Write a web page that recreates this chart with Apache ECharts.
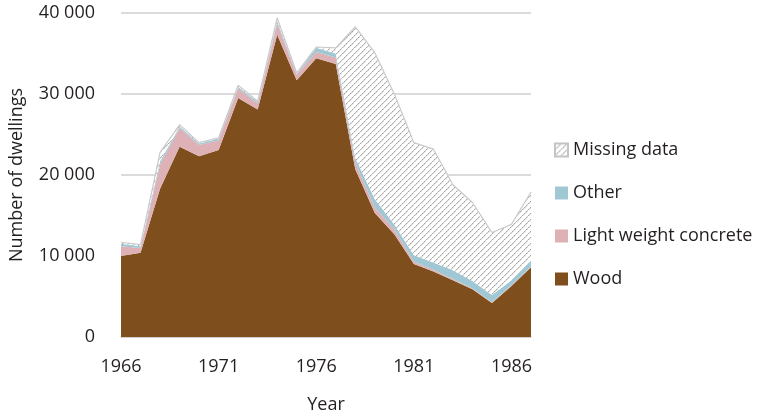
<!DOCTYPE html>
<html>
<head>
<meta charset="utf-8">
<script src="https://cdn.jsdelivr.net/npm/echarts@6/dist/echarts.min.js"></script>
<style>
  html, body { margin: 0; padding: 0; background: #fff; }
  #chart { width: 770px; height: 419px; }
</style>
</head>
<body>
<div id="chart"></div>
<script>
// 数据
const years = ['1966','1967','1968','1969','1970','1971','1972','1973','1974','1975','1976',
  '1977','1978','1979','1980','1981','1982','1983','1984','1985','1986','1987'];
const wood =     [10000,10400,18300,23500,22300,23100,29500,28100,37300,31700,34400,
  33700,20700,15300,12700,9000,8100,7000,5900,4200,6300,8600];
const concrete = [1200,600,3000,2300,1400,1200,1200,700,1400,700,800,
  800,800,700,600,300,200,150,100,100,100,100];
const other =    [300,200,400,200,200,200,200,200,300,100,500,
  500,600,1000,600,800,900,1100,900,900,600,700];
const missing =  [200,200,1100,200,100,100,200,100,400,100,100,
  700,16200,18100,16100,13900,14000,10550,9700,7700,6900,8500];
const legendNames = ['Missing data','Other','Light weight concrete','Wood'];

// 斜线填充
function hatchPattern() {
  let c = document.createElement('canvas');
  c.width = 6; c.height = 6;
  let ctx = c.getContext('2d');
  ctx.fillStyle = '#fff';
  ctx.fillRect(0, 0, 6, 6);
  for (let i = 0; i < 6; i++) {
    ctx.fillStyle = (i % 2) ? '#c4c4c4' : '#a6a6a6';
    ctx.fillRect(i, 5 - i, 1.2, 1.2);
  }
  return c;
}

const font = 'Open Sans';
const textColor = '#231f20';

let chart = echarts.init(document.getElementById('chart'));
chart.setOption({
  animation: false,
  grid: { left: 120, right: 239, top: 13, bottom: 81 },
  legend: {
    data: legendNames,
    orient: 'vertical',
    left: 549,
    top: 136,
    itemWidth: 13,
    itemHeight: 13,
    itemGap: 25,
    icon: 'rect',
    textStyle: { fontFamily: font, fontSize: 18, color: textColor, lineHeight: 18 }
  },
  xAxis: {
    type: 'category',
    data: years,
    boundaryGap: false,
    name: 'Year',
    nameLocation: 'middle',
    nameGap: 59,
    nameTextStyle: { fontFamily: font, fontSize: 18, color: textColor },
    axisLine: { lineStyle: { color: '#cfcfcf', width: 1.5 } },
    axisTick: { show: false },
    axisLabel: {
      interval: 4,
      margin: 21,
      fontFamily: font, fontSize: 18, color: textColor
    }
  },
  yAxis: {
    type: 'value',
    min: 0, max: 40000, interval: 10000,
    name: 'Number of dwellings',
    nameLocation: 'middle',
    nameGap: 95,
    nameTextStyle: { fontFamily: font, fontSize: 18, color: textColor },
    axisLine: { show: false },
    axisTick: { show: false },
    axisLabel: {
      margin: 26,
      fontFamily: font, fontSize: 18, color: textColor,
      formatter: (v) => v === 0 ? '0' : (v / 1000) + ' 000'
    },
    splitLine: { lineStyle: { color: '#cfcfcf', width: 1.5 } }
  },
  series: [
    {
      name: 'Wood', type: 'line', stack: 'all', data: wood,
      showSymbol: false, symbol: 'none',
      lineStyle: { width: 0 },
      itemStyle: { color: '#7e4e1c' },
      areaStyle: { color: '#7e4e1c', opacity: 1 }
    },
    {
      name: 'Light weight concrete', type: 'line', stack: 'all', data: concrete,
      showSymbol: false, symbol: 'none',
      lineStyle: { width: 0 },
      itemStyle: { color: '#ddb1b6' },
      areaStyle: { color: '#ddb1b6', opacity: 1 }
    },
    {
      name: 'Other', type: 'line', stack: 'all', data: other,
      showSymbol: false, symbol: 'none',
      lineStyle: { width: 0 },
      itemStyle: { color: '#a0c8d4' },
      areaStyle: { color: '#a0c8d4', opacity: 1 }
    },
    {
      name: 'Missing data', type: 'line', stack: 'all', data: missing,
      showSymbol: false, symbol: 'none',
      lineStyle: { width: 1.2, color: '#cacaca' },
      itemStyle: { color: { image: hatchPattern(), repeat: 'repeat' }, borderColor: '#c4c4c4', borderWidth: 1 },
      areaStyle: { color: { image: hatchPattern(), repeat: 'repeat' }, opacity: 1 }
    }
  ]
});
</script>
</body>
</html>
